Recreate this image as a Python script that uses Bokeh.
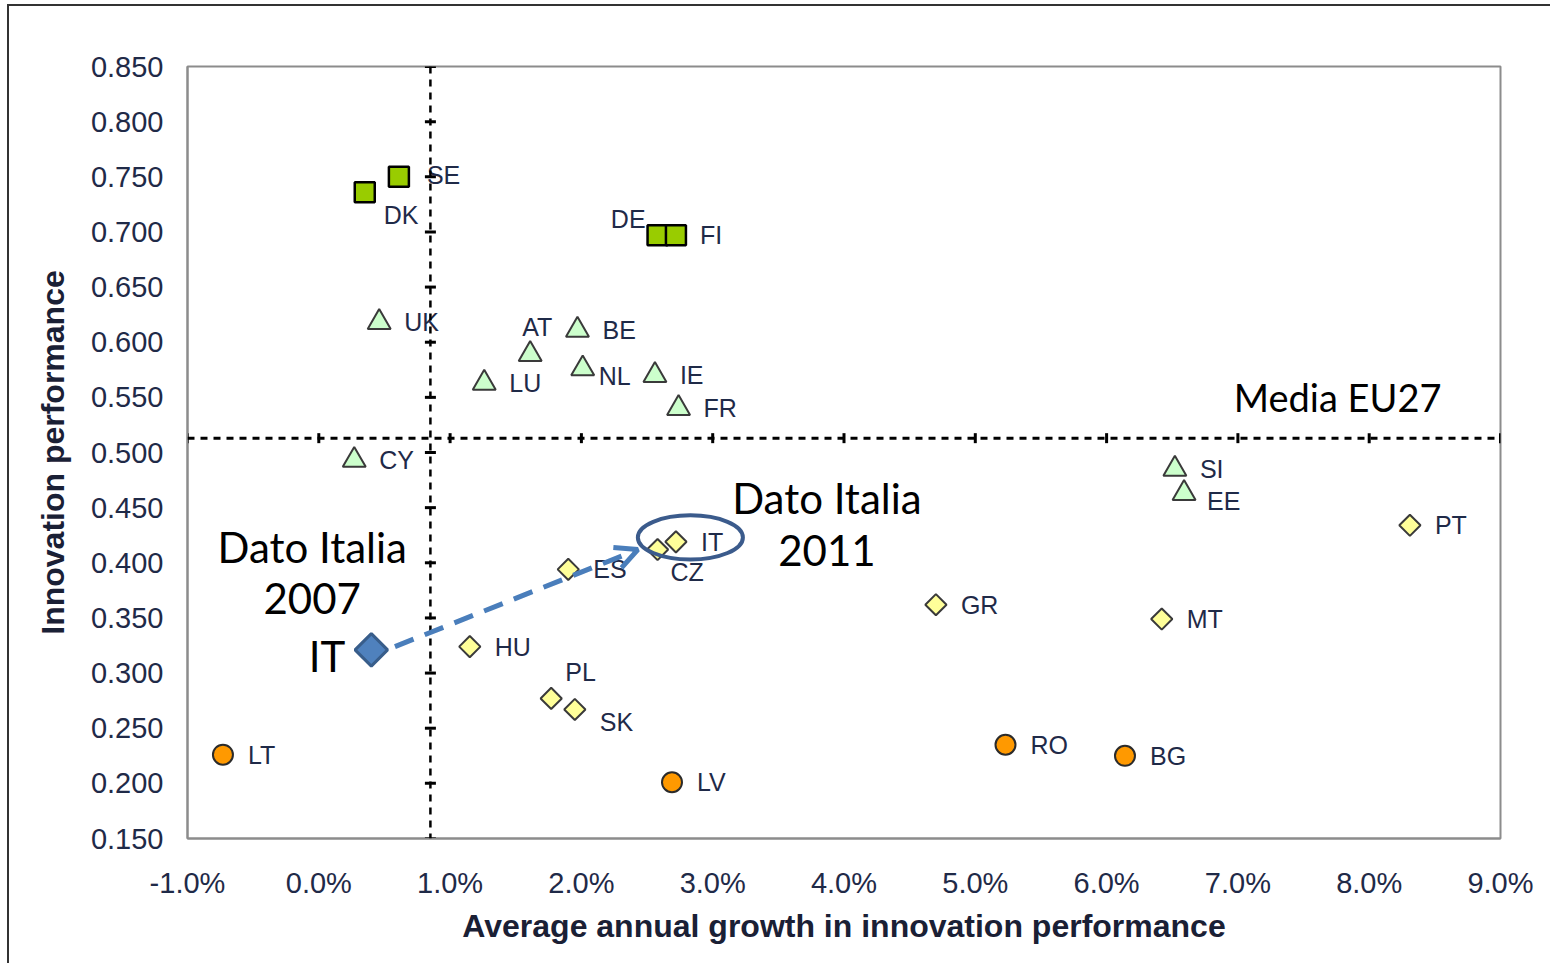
import math
from bokeh.plotting import figure
from bokeh.models import (ColumnDataSource, Span, Arrow, OpenHead, Label,
                          PrintfTickFormatter, FixedTicker, Range1d)
from bokeh.core.properties import value
from bokeh.embed import file_html
from bokeh.resources import INLINE

# ---------------- data ----------------
x_ticks = [-1, 0, 1, 2, 3, 4, 5, 6, 7, 8, 9]
y_ticks = [0.15, 0.20, 0.25, 0.30, 0.35, 0.40, 0.45, 0.50, 0.55, 0.60, 0.65, 0.70, 0.75, 0.80, 0.85]

x_title = "Average annual growth in innovation performance"
y_title = "Innovation performance"

# EU27 averages (dotted cross lines)
eu_growth = 0.85
eu_perf = 0.513

leaders = ["DK", "SE", "DE", "FI"]
leaders_growth = [0.35, 0.61, 2.58, 2.72]
leaders_perf = [0.736, 0.750, 0.697, 0.697]

followers = ["UK", "AT", "BE", "LU", "NL", "IE", "FR", "CY", "SI", "EE"]
followers_growth = [0.46, 1.61, 1.97, 1.26, 2.01, 2.56, 2.74, 0.27, 6.52, 6.59]
followers_perf = [0.618, 0.589, 0.611, 0.563, 0.576, 0.570, 0.540, 0.493, 0.485, 0.463]

moderate = ["PT", "IT", "CZ", "ES", "GR", "MT", "HU", "PL", "SK"]
moderate_growth = [8.31, 2.72, 2.58, 1.90, 4.70, 6.42, 1.15, 1.77, 1.95]
moderate_perf = [0.434, 0.419, 0.412, 0.394, 0.362, 0.349, 0.324, 0.277, 0.267]

modest = ["LT", "LV", "RO", "BG"]
modest_growth = [-0.73, 2.69, 5.23, 6.14]
modest_perf = [0.226, 0.201, 0.235, 0.225]

it2007_growth = [0.40]
it2007_perf = [0.321]

# label placement (pixels), default right of marker
label_offsets = {
    "SE": (28, -2), "DK": (19, 23), "DE": (-12, -16, "right"), "FI": (24, 0),
    "AT": (-8, -27), "NL": (16, 7), "EE": (23, 8), "CZ": (13, 22),
    "PL": (14, -26), "SK": (25, 13),
}
DEFAULT_DX = 25

# ---------------- figure ----------------
W, H = 1543, 959
p = figure(width=W, height=H, output_backend="svg", toolbar_location=None,
           x_range=Range1d(-1, 9), y_range=Range1d(0.15, 0.85),
           min_border_left=178, min_border_right=52, min_border_top=60,
           min_border_bottom=127)
p.styles = {"border-top": "2px solid #333", "border-left": "2px solid #333",
            "margin-left": "7px", "margin-top": "4px"}
p.grid.visible = False
p.background_fill_color = "white"
p.border_fill_color = "white"
p.outline_line_color = "#8c8c8c"
p.outline_line_width = 2

tick_font = "Liberation Sans"
tick_color = "#1f2a48"
for ax in (p.xaxis[0], p.yaxis[0]):
    ax.axis_line_color = "#8c8c8c"
    ax.axis_line_width = 2
    ax.major_tick_line_color = None
    ax.minor_tick_line_color = None
    ax.major_tick_out = 0
    ax.major_tick_in = 0
    ax.major_label_text_font = tick_font
    ax.major_label_text_font_size = "29px"
    ax.major_label_text_color = tick_color
    ax.axis_label_text_font = tick_font
    ax.axis_label_text_font_style = "bold"
    ax.axis_label_text_font_size = "32px"
    ax.axis_label_text_color = "#1a2035"

p.xaxis.ticker = FixedTicker(ticks=x_ticks)
p.yaxis.ticker = FixedTicker(ticks=y_ticks)
p.xaxis.formatter = PrintfTickFormatter(format="%.1f%%")
p.yaxis.formatter = PrintfTickFormatter(format="%.3f")
p.xaxis.axis_label = x_title
p.yaxis.axis_label = y_title
p.xaxis.major_label_standoff = 28
p.yaxis.major_label_standoff = 24
p.xaxis.axis_label_standoff = 6
p.yaxis.axis_label_standoff = 17

# dotted EU average lines
p.add_layout(Span(location=eu_perf, dimension="width", line_color="black",
                  line_width=3, line_dash="7 6"))
p.add_layout(Span(location=eu_growth, dimension="height", line_color="black",
                  line_width=2.5, line_dash="7 6"))
# tick marks on the crossing lines
p.scatter([eu_growth] * len(y_ticks), y_ticks, marker="dash", size=11,
          line_color="black", line_width=3)
p.scatter(x_ticks, [eu_perf] * len(x_ticks), marker="dash", angle=math.pi / 2,
          size=10, line_color="black", line_width=3)

# markers
p.scatter(leaders_growth, leaders_perf, marker="square", size=20,
          fill_color="#99cc00", line_color="black", line_width=2.5)
p.scatter(followers_growth, followers_perf, marker="triangle", size=23,
          fill_color="#ccffcc", line_color="#3a3a3a", line_width=2)
p.scatter(moderate_growth, moderate_perf, marker="square", angle=math.pi / 4,
          size=15, fill_color="#ffff99", line_color="#3a3a3a", line_width=2)
p.scatter(modest_growth, modest_perf, marker="circle", size=20,
          fill_color="#ff9900", line_color="#2b2b2b", line_width=2)
p.scatter(it2007_growth, it2007_perf, marker="square", angle=math.pi / 4,
          size=23, fill_color="#4f81bd", line_color="#385d8a", line_width=3)

# country labels
names, lx, ly, dxs, dys, aligns = [], [], [], [], [], []
for grp_n, grp_x, grp_y in [(leaders, leaders_growth, leaders_perf),
                             (followers, followers_growth, followers_perf),
                             (moderate, moderate_growth, moderate_perf),
                             (modest, modest_growth, modest_perf)]:
    for n, gx, gy in zip(grp_n, grp_x, grp_y):
        off = label_offsets.get(n, (DEFAULT_DX, 0))
        names.append(n)
        lx.append(gx)
        ly.append(gy)
        dxs.append(off[0])
        dys.append(off[1])
        aligns.append(off[2] if len(off) > 2 else "left")
src = ColumnDataSource(dict(x=lx, y=ly, t=names, dx=dxs, dy=dys, al=aligns))
p.text(x="x", y="y", text="t", x_offset="dx", y_offset="dy", text_align="al",
       source=src, text_baseline="middle", text_font=value(tick_font),
       text_font_size="25px", text_color=tick_color)

# ellipse around Italy 2011
it_idx = moderate.index("IT")
it11_x, it11_y = moderate_growth[it_idx], moderate_perf[it_idx]
ell_cx, ell_cy = it11_x + 0.11, it11_y + 0.004
ell_w, ell_h = 0.80, 0.040
p.ellipse([ell_cx], [ell_cy], width=ell_w, height=ell_h, fill_color=None,
          line_color="#3b5b8c", line_width=4)

# dashed arrow from Italy 2007 to Italy 2011
p.add_layout(Arrow(x_start=it2007_growth[0] + 0.18, y_start=it2007_perf[0] + 0.003,
                   x_end=ell_cx - ell_w / 2, y_end=ell_cy - 0.011,
                   line_color="#4a7ebb", line_width=5, line_dash="20 12",
                   end=OpenHead(size=22, line_color="#4a7ebb", line_width=5)))

big_font = "Lato"
p.add_layout(Label(x=7.76, y=eu_perf + 0.037, text="Media EU27",
                   text_font=big_font, text_font_size="38px",
                   text_color="black", text_align="center", text_baseline="middle"))
p.add_layout(Label(x=ell_cx + 1.04, y=0.481, text="Dato Italia\n2011",
                   text_font=big_font, text_font_size="42px", text_color="black",
                   text_align="center", text_baseline="top", text_line_height=1.03))
p.add_layout(Label(x=it2007_growth[0] - 0.45, y=0.437, text="Dato Italia\n2007",
                   text_font=big_font, text_font_size="42px", text_color="black",
                   text_align="center", text_baseline="top", text_line_height=1.03))
p.add_layout(Label(x=it2007_growth[0], y=it2007_perf[0], x_offset=-26, y_offset=-6,
                   text="IT", text_font=big_font, text_font_size="42px",
                   text_color="black", text_align="right", text_baseline="middle"))

open("out.html", "w").write(file_html(p, INLINE))
